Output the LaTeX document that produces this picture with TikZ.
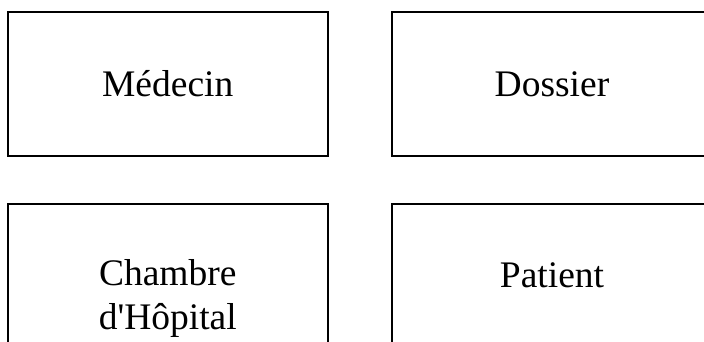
\documentclass[tikz,border=0pt]{standalone}
\usepackage{fontspec}
\newfontfamily\lser{Liberation Serif}
\begin{document}
\begin{tikzpicture}[x=1pt,y=-1pt,
  box/.style={draw=black, line width=2pt, rectangle, minimum width=320.5pt, minimum height=144pt, inner sep=0pt},
  lbl/.style={font=\lser\fontsize{37.5}{44}\selectfont, inner sep=0pt, anchor=base}]
\useasboundingbox (0,0) rectangle (704,342);
\clip (0,0) rectangle (704,342);
\fill[white] (0,0) rectangle (704,342);
\node[box] (med) at (167.75,84) {};
\node[box] (dos) at (552,84) {};
\node[box] (cha) at (167.75,276) {};
\node[box] (pat) at (552,276) {};
\node[lbl] (medt) at ([yshift=-86pt]med.north) {Médecin};
\node[lbl] (dost) at ([yshift=-86pt]dos.north) {Dossier};
\node[lbl] (chat1) at ([yshift=-82pt]cha.north) {Chambre};
\node[lbl] (chat2) at ([yshift=-126pt]cha.north) {d'Hôpital};
\node[lbl] (patt) at ([yshift=-84pt]pat.north) {Patient};
\end{tikzpicture}
\end{document}
